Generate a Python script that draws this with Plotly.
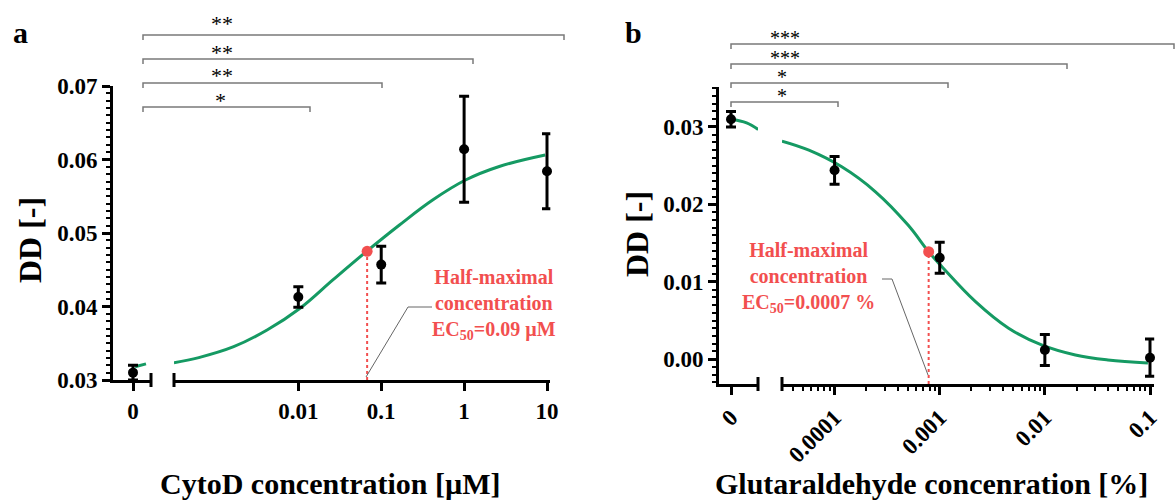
import plotly.graph_objects as go

W, H = 1175, 502

# ---------------- data ----------------
cyto_conc = [0, 0.01, 0.1, 1, 10]
cyto_dd = [0.0310, 0.0413, 0.0457, 0.0614, 0.0584]
cyto_err = [0.0010, 0.0014, 0.0025, 0.0072, 0.0051]
cyto_fit_zero_x = [0.1, 0.65]
cyto_fit_zero_dd = [0.0318, 0.0322]
cyto_fit_conc = [0.000316, 0.00063, 0.00166, 0.0042, 0.0105, 0.0263, 0.066, 0.166,
                 0.417, 1.04, 2.6, 9.5]
cyto_fit_dd = [0.03235, 0.03305, 0.03453, 0.0368, 0.03976, 0.04365, 0.04746, 0.05109,
               0.05449, 0.05721, 0.05902, 0.06061]
cyto_ec50_x = 0.0676
cyto_ec50_dd = 0.0475
cyto_ticks = [0.01, 0.1, 1, 10]
cyto_ticktext = ["0.01", "0.1", "1", "10"]
cyto_yticks = [0.03, 0.04, 0.05, 0.06, 0.07]
cyto_stars = ["*", "**", "**", "**"]

glut_conc = [0, 0.0001, 0.001, 0.01, 0.1]
glut_dd = [0.0310, 0.0244, 0.0131, 0.0012, 0.0002]
glut_err = [0.0010, 0.0018, 0.0020, 0.0020, 0.0024]
glut_fit_zero_x = [0.0, 0.39, 0.68]
glut_fit_zero_dd = [0.0310, 0.03053, 0.02968]
glut_fit_conc = [3.16e-5, 5.7e-5, 1.17e-4, 2.45e-4, 5.0e-4, 7.85e-4, 1.05e-3, 2.19e-3,
                 4.52e-3, 9.3e-3, 0.0195, 0.0398, 0.0955]
glut_fit_dd = [0.02817, 0.0270, 0.02485, 0.02163, 0.01733, 0.01388, 0.01195, 0.00743,
               0.0040, 0.00185, 0.00055, -0.0001, -0.0005]
glut_ec50_x = 0.000785
glut_ec50_dd = 0.01388
glut_ticks = [0.0001, 0.001, 0.01, 0.1]
glut_ticktext = ["0.0001", "0.001", "0.01", "0.1"]
glut_yticks = [0.0, 0.01, 0.02, 0.03]
glut_stars = ["*", "*", "***", "***"]

# ---------------- styling ----------------
FONT = "Liberation Serif"
GREEN = "#159a63"
RED = "#f24f4f"
GREY = "#7a7a7a"

# pixel layout of the two panels
A_DEC = 373 / 4.5          # px per decade, panel a
B_DEC = 368 / 3.5          # px per decade, panel b
A_MAX, B_MAX = 1.04, -0.96  # small headroom past the last tick


def px(x):
    return x / W


def py(y):
    return 1 - y / H


fig = go.Figure()


def points(x, y, e, xa, ya):
    fig.add_trace(go.Scatter(
        x=x, y=y, xaxis=xa, yaxis=ya, mode="markers",
        marker=dict(color="black", size=10),
        error_y=dict(type="data", array=e, color="black", thickness=3, width=5),
        cliponaxis=False, showlegend=False))


def curve(x, y, xa, ya):
    fig.add_trace(go.Scatter(
        x=x, y=y, xaxis=xa, yaxis=ya, mode="lines",
        line=dict(color=GREEN, width=3, shape="spline", smoothing=1.1),
        cliponaxis=False, showlegend=False))


# panel a
curve(cyto_fit_zero_x, cyto_fit_zero_dd, "x", "y")
curve(cyto_fit_conc, cyto_fit_dd, "x2", "y")
points(cyto_conc[:1], cyto_dd[:1], cyto_err[:1], "x", "y")
points(cyto_conc[1:], cyto_dd[1:], cyto_err[1:], "x2", "y")
fig.add_trace(go.Scatter(x=[cyto_ec50_x, cyto_ec50_x], y=[cyto_yticks[0], cyto_ec50_dd],
                         xaxis="x2", yaxis="y", mode="lines",
                         line=dict(color=RED, width=2, dash="dot"), showlegend=False))
fig.add_trace(go.Scatter(x=[cyto_ec50_x], y=[cyto_ec50_dd], xaxis="x2", yaxis="y",
                         mode="markers", marker=dict(color=RED, size=11),
                         cliponaxis=False, showlegend=False))

# panel b
curve(glut_fit_zero_x, glut_fit_zero_dd, "x3", "y2")
curve(glut_fit_conc, glut_fit_dd, "x4", "y2")
points(glut_conc[:1], glut_dd[:1], glut_err[:1], "x3", "y2")
points(glut_conc[1:], glut_dd[1:], glut_err[1:], "x4", "y2")
fig.add_trace(go.Scatter(x=[glut_ec50_x, glut_ec50_x], y=[-0.0032, glut_ec50_dd],
                         xaxis="x4", yaxis="y2", mode="lines",
                         line=dict(color=RED, width=2, dash="dot"), showlegend=False))
fig.add_trace(go.Scatter(x=[glut_ec50_x], y=[glut_ec50_dd], xaxis="x4", yaxis="y2",
                         mode="markers", marker=dict(color=RED, size=11),
                         cliponaxis=False, showlegend=False))

tickfont = dict(family=FONT, size=23, color="black", weight="bold")
axis_common = dict(showline=True, linewidth=3, linecolor="black", showgrid=False,
                   zeroline=False, ticks="outside", ticklen=8, tickwidth=3,
                   tickcolor="black", tickfont=tickfont, automargin=False)

log_minor = [m * 10 ** e for e in range(-5, -1) for m in range(2, 10)]

fig.update_layout(
    template="none",
    width=W, height=H, autosize=False,
    margin=dict(l=0, r=0, t=0, b=0, pad=0),
    paper_bgcolor="white", plot_bgcolor="white",
    showlegend=False,
    xaxis=dict(domain=[px(113), px(151)], range=[-1, 0.9], anchor="y",
               tickvals=[0], ticktext=["0"], **axis_common),
    xaxis2=dict(type="log", domain=[px(174), px(547 + (A_MAX - 1) * A_DEC)],
                range=[-3.5, A_MAX], anchor="y",
                tickvals=cyto_ticks, ticktext=cyto_ticktext, **axis_common),
    yaxis=dict(domain=[py(380), py(86)], range=[0.03, 0.07], anchor="x",
               tickvals=cyto_yticks, tickformat=".2f",
               minor=dict(dtick=0.001, tick0=0, ticks="outside", ticklen=4,
                          tickwidth=2, tickcolor="black", showgrid=False),
               **axis_common),
    xaxis3=dict(domain=[px(719), px(758)], range=[-0.3, 0.675], anchor="y2",
                tickvals=[0], ticktext=["0"], tickangle=-45, **axis_common),
    xaxis4=dict(type="log", domain=[px(782), px(1150 + (B_MAX + 1) * B_DEC)],
                range=[-4.5, B_MAX], anchor="y2",
                tickvals=glut_ticks, ticktext=glut_ticktext, tickangle=-45,
                minor=dict(tickvals=log_minor, ticks="outside", ticklen=4,
                           tickwidth=2, tickcolor="black", showgrid=False),
                **axis_common),
    yaxis2=dict(domain=[py(384), py(86.7)], range=[-0.0032, 0.0352], anchor="x3",
                tickvals=glut_yticks, tickformat=".2f",
                minor=dict(dtick=0.001, tick0=0, ticks="outside", ticklen=4,
                           tickwidth=2, tickcolor="black", showgrid=False),
                **axis_common),
)

shapes = []
# axis break caps
for xc, yc in [(151, 380), (174, 380), (758, 384), (782, 384)]:
    shapes.append(dict(type="line", xref="paper", yref="paper",
                       x0=px(xc), x1=px(xc), y0=py(yc - 7), y1=py(yc + 7),
                       line=dict(color="black", width=3)))


def bracket(x0, x1, y):
    shapes.append(dict(type="path", xref="paper", yref="paper",
                       path=f"M {px(x0)},{py(y + 5)} L {px(x0)},{py(y)} L {px(x1)},{py(y)} L {px(x1)},{py(y + 5)}",
                       line=dict(color=GREY, width=1.5)))


annotations = []


def stars(text, x, y, size):
    annotations.append(dict(text=text, x=px(x), y=py(y), xref="paper", yref="paper",
                            showarrow=False, xanchor="center", yanchor="middle",
                            font=dict(family=FONT, size=size, color="black")))


left_brackets = [(143, 310, 107, 220, 100), (143, 382, 83, 222, 76),
                 (143, 473, 59, 222, 52), (143, 564, 35, 222, 24)]
for (x0, x1, y, sx, sy), s in zip(left_brackets, cyto_stars):
    bracket(x0, x1, y)
    stars(s, sx, sy, 22)

right_brackets = [(731, 838, 102, 782, 96), (731, 948, 83, 782, 77),
                  (731, 1067, 64, 785, 58), (731, 1174, 44, 785, 38)]
for (x0, x1, y, sx, sy), s in zip(right_brackets, glut_stars):
    bracket(x0, x1, y)
    stars(s, sx, sy, 20)

# leader lines for EC50 labels
shapes.append(dict(type="path", xref="paper", yref="paper",
                   path=f"M {px(432)},{py(307)} L {px(408)},{py(307)} L {px(366)},{py(377)}",
                   line=dict(color="#666666", width=1)))
shapes.append(dict(type="path", xref="paper", yref="paper",
                   path=f"M {px(882)},{py(279)} L {px(892)},{py(279)} L {px(928)},{py(375)}",
                   line=dict(color="#666666", width=1)))


def text(t, x, y, size, angle=0, color="black", weight="bold"):
    annotations.append(dict(text=t, x=px(x), y=py(y), xref="paper", yref="paper",
                            showarrow=False, xanchor="center", yanchor="middle",
                            textangle=angle, align="center",
                            font=dict(family=FONT, size=size, color=color, weight=weight)))


text("a", 20, 33, 30)
text("b", 633, 33, 30)
text("DD [-]", 30, 240, 32, angle=-90)
text("DD [-]", 637, 234, 32, angle=-90)
text("CytoD concentration [µM]", 330, 483, 30)
text("Glutaraldehyde concenration [%]", 931, 483, 30)
text("Half-maximal<br>concentration<br>EC<sub>50</sub>=0.09 µM", 494, 304, 20, color=RED)
text("Half-maximal<br>concentration<br>EC<sub>50</sub>=0.0007 %", 809, 277, 20, color=RED)

fig.update_layout(shapes=shapes, annotations=annotations)

fig.write_html("out.html")
